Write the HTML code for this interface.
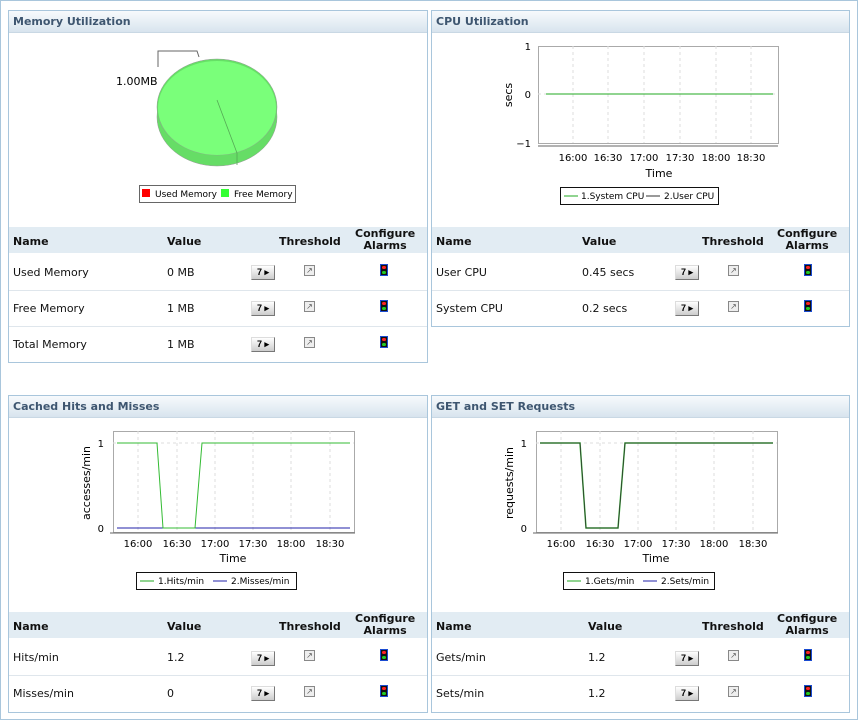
<!DOCTYPE html>
<html><head><meta charset="utf-8"><style>
body{margin:0;width:858px;height:720px;background:#fff;font-family:"DejaVu Sans","Liberation Sans",sans-serif;position:relative;overflow:hidden}
.frame{position:absolute;left:0;top:0;width:856px;height:718px;border:1px solid #a9c6dc}
.p{position:absolute;border:1px solid #a9c6dc;background:#fff}
.h{height:21px;background:linear-gradient(#f7fafc,#d8e4ee);font:bold 11px "DejaVu Sans",sans-serif;color:#3e5670;line-height:21px;padding-left:4px;border-bottom:1px solid #c9d8e4}
.th{position:absolute;left:0;right:0;height:26px;background:#e2ecf3;font:bold 11px "DejaVu Sans",sans-serif;color:#111}
.th span,.r span{position:absolute}
.r{position:absolute;left:0;right:0;height:36px;border-bottom:1px solid #dfe6ec;font:11px "DejaVu Sans",sans-serif;color:#111}
.btn{position:absolute;width:22px;height:13px;background:linear-gradient(#fff,#ccc);border:1px solid #999;border-color:#ddd #777 #777 #ddd;font:bold 9px sans-serif;text-align:center;line-height:13px}
.ic{position:absolute;width:9px;height:9px;border:1px solid #888;background:#eee;font:8px sans-serif;line-height:9px;text-align:center;color:#555}
.al{position:absolute;width:6px;height:10px;border:1px solid #1a4bd1;background:#111}
.al:before{content:"";position:absolute;left:1px;top:1px;width:4px;height:3px;background:#f22;border-radius:2px}
.al:after{content:"";position:absolute;left:1px;top:6px;width:4px;height:3px;background:#2c2;border-radius:2px}
svg{position:absolute;left:0;top:0}
svg text{font-family:"DejaVu Sans",sans-serif}
</style></head><body>
<div class="frame"></div>

<!-- Panel 1 -->
<div class="p" style="left:8px;top:10px;width:418px;height:351px">
<div class="h">Memory Utilization</div>
<div class="th" style="top:216px"><span style="left:4px;top:8px">Name</span><span style="left:158px;top:8px">Value</span><span style="left:270px;top:8px">Threshold</span><span style="left:346px;top:1px;text-align:center;line-height:12px">Configure<br>Alarms</span></div>
<div class="r" style="top:243px"><span style="left:4px;top:12px">Used Memory</span><span style="left:158px;top:12px">0 MB</span></div>
<div class="r" style="top:279px"><span style="left:4px;top:12px">Free Memory</span><span style="left:158px;top:12px">1 MB</span></div>
<div class="r" style="top:315px;border:none"><span style="left:4px;top:12px">Total Memory</span><span style="left:158px;top:12px">1 MB</span></div>
</div>
<!-- Panel 2 -->
<div class="p" style="left:431px;top:10px;width:417px;height:315px">
<div class="h">CPU Utilization</div>
<div class="th" style="top:216px"><span style="left:4px;top:8px">Name</span><span style="left:150px;top:8px">Value</span><span style="left:270px;top:8px">Threshold</span><span style="left:345px;top:1px;text-align:center;line-height:12px">Configure<br>Alarms</span></div>
<div class="r" style="top:243px"><span style="left:4px;top:12px">User CPU</span><span style="left:150px;top:12px">0.45 secs</span></div>
<div class="r" style="top:279px;border:none"><span style="left:4px;top:12px">System CPU</span><span style="left:150px;top:12px">0.2 secs</span></div>
</div>
<!-- Panel 3 -->
<div class="p" style="left:8px;top:395px;width:418px;height:316px">
<div class="h">Cached Hits and Misses</div>
<div class="th" style="top:216px"><span style="left:4px;top:8px">Name</span><span style="left:158px;top:8px">Value</span><span style="left:270px;top:8px">Threshold</span><span style="left:346px;top:1px;text-align:center;line-height:12px">Configure<br>Alarms</span></div>
<div class="r" style="top:243px"><span style="left:4px;top:12px">Hits/min</span><span style="left:158px;top:12px">1.2</span></div>
<div class="r" style="top:279px;border:none"><span style="left:4px;top:12px">Misses/min</span><span style="left:158px;top:12px">0</span></div>
</div>
<!-- Panel 4 -->
<div class="p" style="left:431px;top:395px;width:417px;height:316px">
<div class="h">GET and SET Requests</div>
<div class="th" style="top:216px"><span style="left:4px;top:8px">Name</span><span style="left:156px;top:8px">Value</span><span style="left:270px;top:8px">Threshold</span><span style="left:345px;top:1px;text-align:center;line-height:12px">Configure<br>Alarms</span></div>
<div class="r" style="top:243px"><span style="left:4px;top:12px">Gets/min</span><span style="left:156px;top:12px">1.2</span></div>
<div class="r" style="top:279px;border:none"><span style="left:4px;top:12px">Sets/min</span><span style="left:156px;top:12px">1.2</span></div>
</div>

<!-- buttons -->
<div class="btn" style="left:251px;top:265px">7 ▸</div><div class="ic" style="left:304px;top:265px">↗</div><div class="al" style="left:380px;top:264px"></div>
<div class="btn" style="left:251px;top:301px">7 ▸</div><div class="ic" style="left:304px;top:301px">↗</div><div class="al" style="left:380px;top:300px"></div>
<div class="btn" style="left:251px;top:337px">7 ▸</div><div class="ic" style="left:304px;top:337px">↗</div><div class="al" style="left:380px;top:336px"></div>
<div class="btn" style="left:675px;top:265px">7 ▸</div><div class="ic" style="left:728px;top:265px">↗</div><div class="al" style="left:804px;top:264px"></div>
<div class="btn" style="left:675px;top:301px">7 ▸</div><div class="ic" style="left:728px;top:301px">↗</div><div class="al" style="left:804px;top:300px"></div>
<div class="btn" style="left:251px;top:651px">7 ▸</div><div class="ic" style="left:304px;top:650px">↗</div><div class="al" style="left:380px;top:649px"></div>
<div class="btn" style="left:251px;top:686px">7 ▸</div><div class="ic" style="left:304px;top:686px">↗</div><div class="al" style="left:380px;top:685px"></div>
<div class="btn" style="left:675px;top:651px">7 ▸</div><div class="ic" style="left:728px;top:650px">↗</div><div class="al" style="left:804px;top:649px"></div>
<div class="btn" style="left:675px;top:686px">7 ▸</div><div class="ic" style="left:728px;top:686px">↗</div><div class="al" style="left:804px;top:685px"></div>

<svg width="858" height="720" font-size="10">
<!-- Pie -->
<ellipse cx="217" cy="117" rx="60" ry="49" fill="#66dd66" stroke="#999" stroke-width="0.5"/>
<rect x="157" y="107" width="120" height="10" fill="#66dd66"/>
<ellipse cx="217" cy="107" rx="60" ry="48" fill="#66e066" stroke="#999" stroke-width="0.5"/>
<ellipse cx="217" cy="108" rx="59" ry="47" fill="#7aff7a"/>
<line x1="217" y1="100" x2="237" y2="153" stroke="#55aa55" stroke-width="0.8"/>
<line x1="237" y1="153" x2="237" y2="165" stroke="#55aa55" stroke-width="0.8"/>
<polyline points="158,67 158,51 197,51 199,57" fill="none" stroke="#666"/>
<text x="116" y="85" font-size="11">1.00MB</text>
<rect x="139.5" y="185.5" width="156" height="17" fill="#fff" stroke="#666"/>
<rect x="142" y="189" width="8" height="8" fill="#f00"/><text x="155" y="197" font-size="9">Used Memory</text>
<rect x="221" y="189" width="8" height="8" fill="#33ff33"/><text x="234" y="197" font-size="9">Free Memory</text>

<!-- CPU chart -->
<rect x="538.5" y="46.5" width="240" height="97" fill="#fff" stroke="#aaa"/>
<g stroke="#ddd" stroke-dasharray="3,3"><line x1="573" y1="46" x2="573" y2="143"/><line x1="608" y1="46" x2="608" y2="143"/><line x1="644" y1="46" x2="644" y2="143"/><line x1="680" y1="46" x2="680" y2="143"/><line x1="716" y1="46" x2="716" y2="143"/><line x1="751" y1="46" x2="751" y2="143"/><line x1="538" y1="94" x2="778" y2="94"/></g>
<line x1="546" y1="94" x2="773" y2="94" stroke="#22aa22"/>
<line x1="538" y1="146" x2="778" y2="146" stroke="#666"/>
<g text-anchor="end"><text x="531" y="50">1</text><text x="531" y="98">0</text><text x="531" y="147">−1</text></g>
<g text-anchor="middle"><text x="573" y="161">16:00</text><text x="608" y="161">16:30</text><text x="644" y="161">17:00</text><text x="680" y="161">17:30</text><text x="716" y="161">18:00</text><text x="751" y="161">18:30</text><text x="659" y="177" font-size="11">Time</text></g>
<text transform="translate(512,95) rotate(-90)" text-anchor="middle" font-size="11">secs</text>
<rect x="560.5" y="187.5" width="158" height="17" fill="#fff" stroke="#111"/>
<line x1="564" y1="196" x2="578" y2="196" stroke="#22aa22"/><text x="581" y="199" font-size="9">1.System CPU</text>
<line x1="646" y1="196" x2="660" y2="196" stroke="#333"/><text x="664" y="199" font-size="9">2.User CPU</text>

<!-- Hits chart -->
<g id="c1">
<rect x="113.5" y="431.5" width="241" height="101" fill="#fff" stroke="#aaa"/>
<g stroke="#ddd" stroke-dasharray="3,3"><line x1="138" y1="431" x2="138" y2="532"/><line x1="177" y1="431" x2="177" y2="532"/><line x1="215" y1="431" x2="215" y2="532"/><line x1="253" y1="431" x2="253" y2="532"/><line x1="291" y1="431" x2="291" y2="532"/><line x1="330" y1="431" x2="330" y2="532"/><line x1="113" y1="443" x2="354" y2="443"/></g>
<line x1="110" y1="533" x2="355" y2="533" stroke="#666"/>
<g text-anchor="end"><text x="104" y="447">1</text><text x="104" y="532">0</text></g>
<g text-anchor="middle"><text x="138" y="547">16:00</text><text x="177" y="547">16:30</text><text x="215" y="547">17:00</text><text x="253" y="547">17:30</text><text x="291" y="547">18:00</text><text x="330" y="547">18:30</text><text x="233" y="562" font-size="11">Time</text></g>
</g>
<line x1="117" y1="528" x2="350" y2="528" stroke="#2222aa"/>
<polyline points="117,443 157,443 163,528 195,528 202,443 350,443" fill="none" stroke="#33bb33"/>
<text transform="translate(90,483) rotate(-90)" text-anchor="middle" font-size="11">accesses/min</text>
<rect x="136.5" y="572.5" width="160" height="17" fill="#fff" stroke="#111"/>
<line x1="140" y1="581" x2="154" y2="581" stroke="#22aa22"/><text x="158" y="584" font-size="9">1.Hits/min</text>
<line x1="213" y1="581" x2="227" y2="581" stroke="#2222aa"/><text x="231" y="584" font-size="9">2.Misses/min</text>

<!-- GET/SET chart -->
<use href="#c1" transform="translate(423,0)"/>
<polyline points="540,443 580,443 586,528 618,528 625,443 773,443" fill="none" stroke="#33bb33" stroke-width="1.5"/>
<polyline points="540,443 580,443 586,528 618,528 625,443 773,443" fill="none" stroke="#333" stroke-width="0.8"/>
<text transform="translate(513,483) rotate(-90)" text-anchor="middle" font-size="11">requests/min</text>
<rect x="563.5" y="572.5" width="151" height="17" fill="#fff" stroke="#111"/>
<line x1="567" y1="581" x2="581" y2="581" stroke="#22aa22"/><text x="585" y="584" font-size="9">1.Gets/min</text>
<line x1="643" y1="581" x2="657" y2="581" stroke="#2222aa"/><text x="661" y="584" font-size="9">2.Sets/min</text>
</svg>
</body></html>
